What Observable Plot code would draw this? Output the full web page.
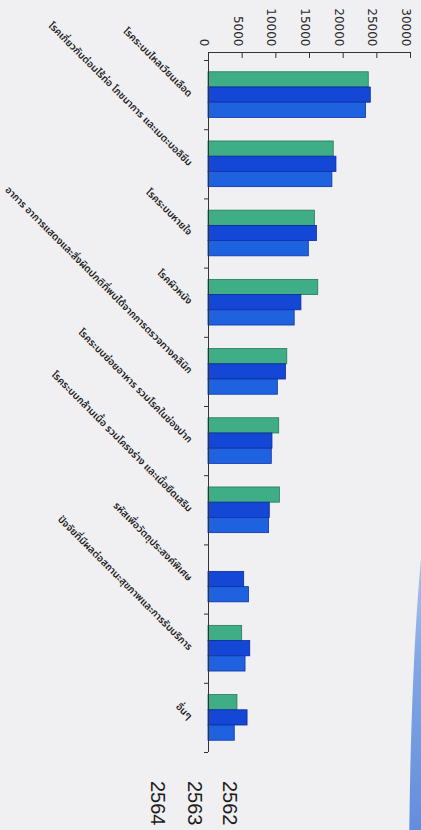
<!DOCTYPE html>
<html><head><meta charset="utf-8">
<script src="https://cdn.jsdelivr.net/npm/d3@7"></script>
<script src="https://cdn.jsdelivr.net/npm/@observablehq/plot@0.6"></script>
<style>
html,body{margin:0;padding:0;background:#f0f0f3;}
#wrap{position:relative;width:421px;height:830px;overflow:hidden;background:#f0f0f3;}
#chart svg{display:block;}
.leg{position:absolute;top:781px;writing-mode:vertical-rl;font:20px "Liberation Sans",Arial,sans-serif;color:#1c1c1c;line-height:1;}
.swoosh{position:absolute;right:-40px;top:470px;width:52px;height:420px;border-radius:60% 0 0 0 / 100% 0 0 0;background:linear-gradient(180deg,#c9d9f3 0%,#6f9ae3 45%,#3d72d6 100%);opacity:.85;}
</style></head><body><div id="wrap"><div id="chart"></div></div>
<script>
const categories = [
  "โรคระบบไหลเวียนเลือด",
  "โรคเกี่ยวกับต่อมไร้ท่อ โภชนาการ และเมตะบอลิซึม",
  "โรคระบบหายใจ",
  "โรคผิวหนัง",
  "อาการ อาการแสดงและสิ่งผิดปกติที่พบได้จากการตรวจทางคลินิก",
  "โรคระบบย่อยอาหาร รวมโรคในช่องปาก",
  "โรคระบบกล้ามเนื้อ รวมโครงร่าง และเนื้อยึดเสริม",
  "รหัสเพื่อวัตถุประสงค์พิเศษ",
  "ปัจจัยที่มีผลต่อสถานะสุขภาพและการรับบริการ",
  "อื่นๆ"
];
const years = ["2562", "2563", "2564"];
const v2562 = [23800, 18600, 15800, 16300, 11700, 10500, 10600, null, 5000, 4300];
const v2563 = [24100, 19000, 16100, 13800, 11500, 9500, 9100, 5300, 6200, 5800];
const v2564 = [23400, 18400, 14900, 12800, 10300, 9400, 9000, 6000, 5500, 3900];
const xTicks = [0, 5000, 10000, 15000, 20000, 25000, 30000];
const fills = ["#3fae86", "#1547d6", "#1e62e0"];
const strokes = ["#23795a", "#0b2a98", "#0d33a6"];

const series = [v2562, v2563, v2564];
const rows = [];
categories.forEach((c, i) => years.forEach((y, s) => {
  const v = series[s][i];
  if (v != null) rows.push({category: c, year: y, value: v, i, s});
}));

const pad = 0.17, bh = 0.22;
const thaiFont = '"Noto Sans Thai","Noto Sans Thai UI","Noto Sans","Loma","Garuda","Tlwg Typo",sans-serif';

const chart = Plot.plot({
  width: 421,
  height: 770,
  marginLeft: 208,
  marginRight: 11,
  marginTop: 60,
  marginBottom: 18,
  style: {background: "transparent", fontFamily: "DejaVu Sans, sans-serif", color: "#2a2a2a"},
  x: {domain: [0, 30000], axis: null},
  y: {domain: [0, categories.length], reverse: true, axis: null},
  color: {domain: years, range: fills},
  marks: [
    Plot.rect(rows, {
      x1: () => 0, x2: "value",
      y1: d => d.i + pad + d.s * bh,
      y2: d => d.i + pad + (d.s + 1) * bh,
      fill: "year",
      stroke: d => strokes[d.s],
      strokeWidth: 0.8
    }),
    // top value axis line, ticks and labels
    Plot.ruleY([0], {dy: -8, stroke: "#333", strokeWidth: 1}),
    Plot.ruleX(xTicks, {x: d => d, y1: 0, y2: 0, insetTop: -8, insetBottom: 2, stroke: "#333"}),
    Plot.text(xTicks, {x: d => d, frameAnchor: "top", text: d => String(d), rotate: 90, textAnchor: "end", dy: -14, fontSize: 12, fill: "#2a2a2a"}),
    // category axis
    Plot.ruleX([0], {insetTop: -8, stroke: "#333", strokeWidth: 1}),
    Plot.ruleY(d3.range(categories.length + 1), {x1: 0, x2: 0, insetLeft: -4, stroke: "#333"}),
    Plot.text(categories, {y: (d, i) => i + 0.5, frameAnchor: "left", text: d => d, rotate: 45, textAnchor: "end", dx: -18, fontSize: 10, fontFamily: thaiFont, fill: "#1e1e1e", fontWeight: 600})
  ]
});
document.getElementById("chart").appendChild(chart);

const wrap = document.getElementById("wrap");
const sw = document.createElement("div"); sw.className = "swoosh"; wrap.appendChild(sw);
const legX = [230, 195, 158];
years.forEach((y, k) => {
  const el = document.createElement("div");
  el.className = "leg";
  el.textContent = y;
  el.style.left = (legX[k] - 10) + "px";
  wrap.appendChild(el);
});
</script>
</body></html>
